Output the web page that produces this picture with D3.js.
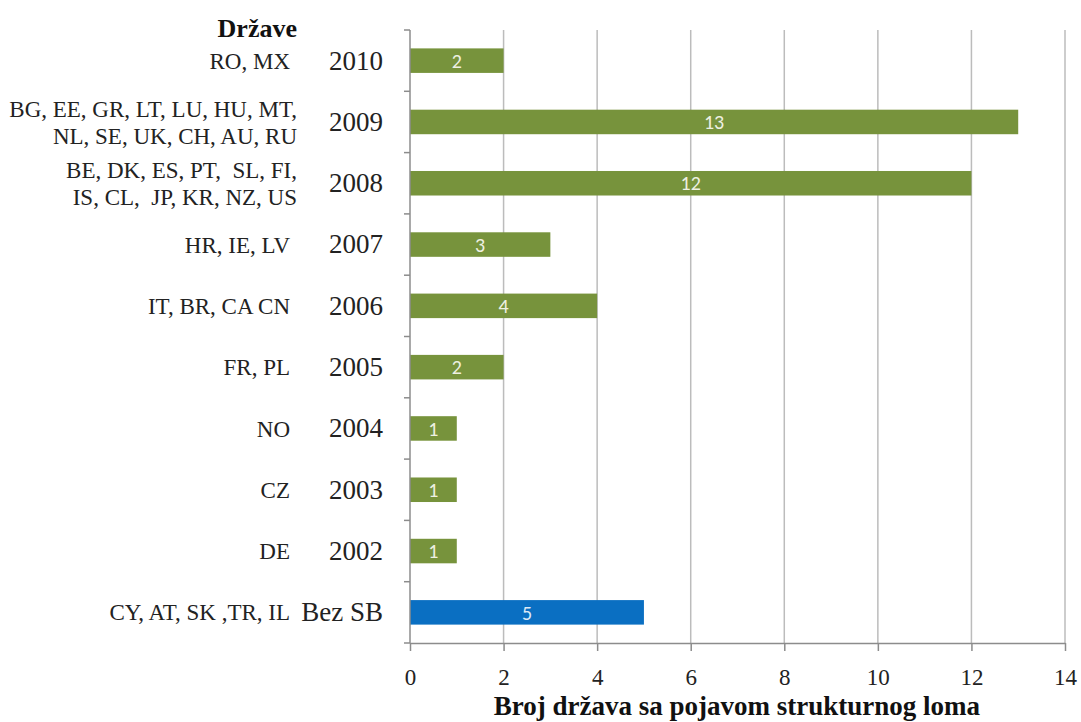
<!DOCTYPE html>
<html>
<head>
<meta charset="utf-8">
<script src="https://cdn.jsdelivr.net/npm/d3@7"></script>
<style>
  body { margin: 0; background: #fff; }
  svg text { font-family: "Liberation Serif", "DejaVu Serif", serif; }
</style>
</head>
<body>
<svg id="chart" width="1081" height="722"></svg>
<script>
// data
const years = ['2010', '2009', '2008', '2007', '2006', '2005', '2004', '2003', '2002', 'Bez SB'];
const counts = [2, 13, 12, 3, 4, 2, 1, 1, 1, 5];
const countries = [
    ['RO, MX'],
    ['BG, EE, GR, LT, LU, HU, MT,', 'NL, SE, UK, CH, AU, RU'],
    ['BE, DK, ES, PT,  SL, FI,', 'IS, CL,  JP, KR, NZ, US'],
    ['HR, IE, LV'],
    ['IT, BR, CA CN'],
    ['FR, PL'],
    ['NO'],
    ['CZ'],
    ['DE'],
    ['CY, AT, SK ,TR, IL']
];
const xTicks = [0, 2, 4, 6, 8, 10, 12, 14];

const svg = d3.select('#chart');
const plotLeft = 410, plotRight = 1065, plotTop = 30, plotBottom = 643;

const x = d3.scaleLinear()
    .domain([0, 14])
    .range([plotLeft, plotRight]);

const y = d3.scaleBand()
    .domain(years)
    .range([plotTop, plotBottom])
    .paddingInner(0.6)
    .paddingOuter(0.3);

const yb = d3.scaleBand() // for the tick marks between rows
    .domain(years)
    .range([plotTop, plotBottom]);

// gridlines
svg.append('g')
    .selectAll('line')
    .data(xTicks.slice(1))
    .enter().append('line')
    .attr('x1', d => x(d))
    .attr('x2', d => x(d))
    .attr('y1', plotTop)
    .attr('y2', plotBottom)
    .attr('stroke', '#bcbcbc')
    .attr('stroke-width', 1.5);

// bars
svg.append('g')
    .selectAll('rect')
    .data(counts)
    .enter().append('rect')
    .attr('x', x(0))
    .attr('y', (d, i) => y(years[i]))
    .attr('width', d => x(d) - x(0))
    .attr('height', y.bandwidth())
    .attr('fill', (d, i) => years[i] === 'Bez SB' ? '#0a6fc2' : '#77933c');

// labels in bars
svg.append('g')
    .selectAll('text')
    .data(counts)
    .enter().append('text')
    .attr('x', d => (x(d) + x(0)) / 2)
    .attr('y', (d, i) => y(years[i]) + y.bandwidth() / 2)
    .attr('dy', '0.36em')
    .attr('text-anchor', 'middle')
    .style('font-family', 'Carlito, "Liberation Sans", sans-serif')
    .attr('font-size', 20)
    .attr('fill', (d, i) => years[i] === 'Bez SB' ? '#dde9f5' : '#eef0e2')
    .text(d => d);

// y axis
const yAxis = svg.append('g');
yAxis.append('line')
    .attr('x1', plotLeft).attr('x2', plotLeft)
    .attr('y1', plotTop).attr('y2', plotBottom)
    .attr('stroke', '#8c8c8c').attr('stroke-width', 1.5);
yAxis.selectAll('.tk')
    .data(years.map(d => yb(d)).concat([plotBottom]))
    .enter().append('line')
    .attr('x1', plotLeft - 6).attr('x2', plotLeft)
    .attr('y1', d => d).attr('y2', d => d)
    .attr('stroke', '#8c8c8c').attr('stroke-width', 1.5);
yAxis.selectAll('text')
    .data(years)
    .enter().append('text')
    .attr('x', 383)
    .attr('y', d => y(d) + y.bandwidth() / 2)
    .attr('dy', '0.33em')
    .attr('text-anchor', 'end')
    .attr('font-size', 27)
    .attr('fill', '#222')
    .text(d => d);

// country names
const cg = svg.append('g');
countries.forEach((lines, i) => {
    const cy = y(years[i]) + y.bandwidth() / 2;
    const tx = lines.length > 1 ? 297 : 290;
    const t = cg.append('text')
        .attr('x', tx)
        .attr('y', cy - (lines.length - 1) * 13)
        .attr('text-anchor', 'end')
        .attr('font-size', 23)
        .attr('fill', '#222');
    lines.forEach((l, j) => {
        t.append('tspan')
            .attr('x', tx)
            .attr('dy', j === 0 ? '0.35em' : 27)
            .attr('xml:space', 'preserve')
            .text(l);
    });
});

svg.append('text')
    .attr('x', 297)
    .attr('y', 37)
    .attr('text-anchor', 'end')
    .attr('font-size', 26)
    .attr('font-weight', 'bold')
    .attr('fill', '#111')
    .text('Države');

// x axis
const xAxis = d3.axisBottom(x)
    .tickValues(xTicks)
    .tickSize(8)
    .tickSizeOuter(0);

const gx = svg.append('g')
    .attr('transform', 'translate(0,' + plotBottom + ')')
    .call(xAxis);
gx.select('.domain').attr('stroke', '#8c8c8c').attr('stroke-width', 1.5);
gx.selectAll('.tick line').attr('stroke', '#8c8c8c').attr('stroke-width', 1.5);
gx.selectAll('.tick text')
    .style('font-family', '"Liberation Serif", serif')
    .style('font-size', '23px')
    .attr('fill', '#222')
    .attr('y', 0)
    .attr('dy', 42);

svg.append('text')
    .attr('x', 737)
    .attr('y', 715)
    .attr('text-anchor', 'middle')
    .attr('font-size', 27)
    .attr('font-weight', 'bold')
    .attr('fill', '#111')
    .text('Broj država sa pojavom strukturnog loma');
</script>
</body>
</html>
